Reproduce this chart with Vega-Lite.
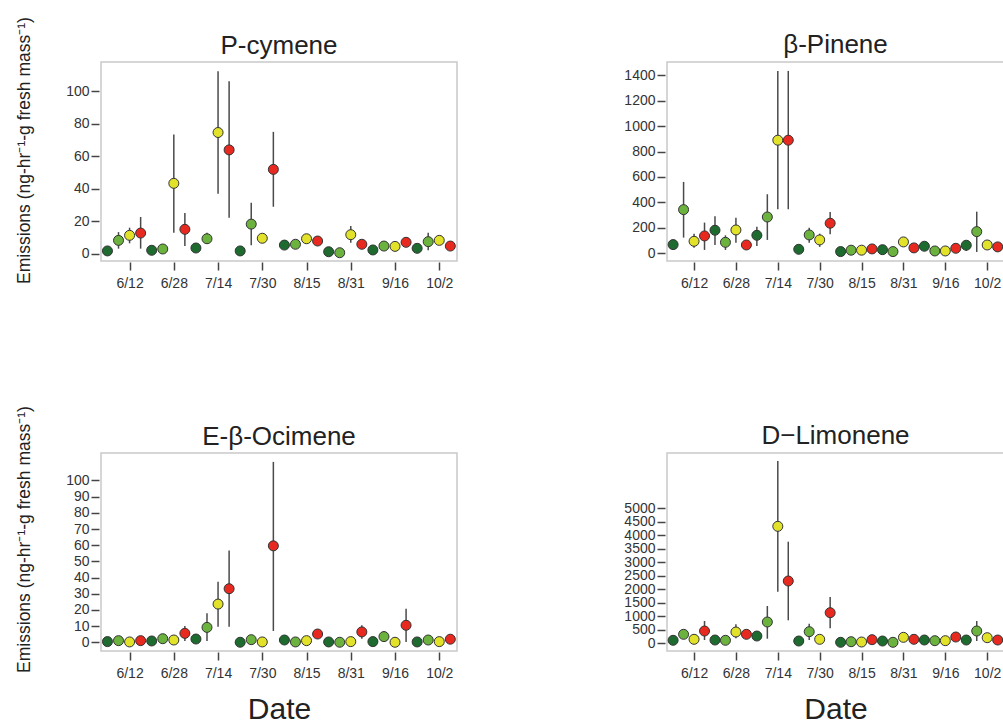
{
  "$schema": "https://vega.github.io/schema/vega-lite/v6.json",
  "padding": {"left": 14, "top": 15, "right": 0, "bottom": 0},
  "background": "white",
  "datasets": {
    "emissions": [
      {"compound":"P-cymene","date":"2013-06-04T00:00","group":"1","value":1.7,"lo":1,"hi":2.5},
      {"compound":"P-cymene","date":"2013-06-08T00:00","group":"2","value":8.2,"lo":3.1,"hi":13.3},
      {"compound":"P-cymene","date":"2013-06-12T00:00","group":"3","value":11.3,"lo":6.4,"hi":16},
      {"compound":"P-cymene","date":"2013-06-16T00:00","group":"4","value":12.7,"lo":3.1,"hi":22.6},
      {"compound":"P-cymene","date":"2013-06-20T00:00","group":"1","value":2.1,"lo":1.5,"hi":2.7},
      {"compound":"P-cymene","date":"2013-06-24T00:00","group":"2","value":2.9,"lo":2.3,"hi":3.5},
      {"compound":"P-cymene","date":"2013-06-28T00:00","group":"3","value":43.3,"lo":12.9,"hi":73.4},
      {"compound":"P-cymene","date":"2013-07-02T00:00","group":"4","value":15,"lo":4.7,"hi":25},
      {"compound":"P-cymene","date":"2013-07-06T00:00","group":"1","value":3.5,"lo":2.5,"hi":4.5},
      {"compound":"P-cymene","date":"2013-07-10T00:00","group":"2","value":9.2,"lo":6.1,"hi":12.9},
      {"compound":"P-cymene","date":"2013-07-14T00:00","group":"3","value":74.6,"lo":36.9,"hi":112.3},
      {"compound":"P-cymene","date":"2013-07-18T00:00","group":"4","value":63.9,"lo":22.1,"hi":106.1},
      {"compound":"P-cymene","date":"2013-07-22T00:00","group":"1","value":1.7,"lo":1.2,"hi":2.2},
      {"compound":"P-cymene","date":"2013-07-26T00:00","group":"2","value":18.2,"lo":5.2,"hi":31.3},
      {"compound":"P-cymene","date":"2013-07-30T00:00","group":"3","value":9.5,"lo":8.5,"hi":10.5},
      {"compound":"P-cymene","date":"2013-08-03T00:00","group":"4","value":51.9,"lo":28.9,"hi":75},
      {"compound":"P-cymene","date":"2013-08-07T00:00","group":"1","value":5.3,"lo":4.5,"hi":6},
      {"compound":"P-cymene","date":"2013-08-11T00:00","group":"2","value":5.8,"lo":5,"hi":6.6},
      {"compound":"P-cymene","date":"2013-08-15T00:00","group":"3","value":9.2,"lo":8.2,"hi":10.2},
      {"compound":"P-cymene","date":"2013-08-19T00:00","group":"4","value":7.8,"lo":6.8,"hi":8.8},
      {"compound":"P-cymene","date":"2013-08-23T00:00","group":"1","value":1.2,"lo":0.7,"hi":1.7},
      {"compound":"P-cymene","date":"2013-08-27T00:00","group":"2","value":0.6,"lo":0.2,"hi":1},
      {"compound":"P-cymene","date":"2013-08-31T00:00","group":"3","value":11.7,"lo":6.8,"hi":17},
      {"compound":"P-cymene","date":"2013-09-04T00:00","group":"4","value":5.8,"lo":5,"hi":6.6},
      {"compound":"P-cymene","date":"2013-09-08T00:00","group":"1","value":2.3,"lo":1.8,"hi":2.8},
      {"compound":"P-cymene","date":"2013-09-12T00:00","group":"2","value":4.7,"lo":4,"hi":5.4},
      {"compound":"P-cymene","date":"2013-09-16T00:00","group":"3","value":4.5,"lo":3.8,"hi":5.2},
      {"compound":"P-cymene","date":"2013-09-20T00:00","group":"4","value":7,"lo":4.7,"hi":9.8},
      {"compound":"P-cymene","date":"2013-09-24T00:00","group":"1","value":3.3,"lo":2.8,"hi":3.8},
      {"compound":"P-cymene","date":"2013-09-28T00:00","group":"2","value":7.4,"lo":2.1,"hi":12.9},
      {"compound":"P-cymene","date":"2013-10-02T00:00","group":"3","value":8.2,"lo":7.2,"hi":9.2},
      {"compound":"P-cymene","date":"2013-10-06T00:00","group":"4","value":4.7,"lo":4,"hi":5.4},

      {"compound":"β-Pinene","date":"2013-06-04T00:00","group":"1","value":68,"lo":55,"hi":80},
      {"compound":"β-Pinene","date":"2013-06-08T00:00","group":"2","value":343,"lo":123,"hi":561},
      {"compound":"β-Pinene","date":"2013-06-12T00:00","group":"3","value":94,"lo":44,"hi":154},
      {"compound":"β-Pinene","date":"2013-06-16T00:00","group":"4","value":136,"lo":26,"hi":241},
      {"compound":"β-Pinene","date":"2013-06-20T00:00","group":"1","value":181,"lo":65,"hi":291},
      {"compound":"β-Pinene","date":"2013-06-24T00:00","group":"2","value":86,"lo":26,"hi":141},
      {"compound":"β-Pinene","date":"2013-06-28T00:00","group":"3","value":183,"lo":83,"hi":280},
      {"compound":"β-Pinene","date":"2013-07-02T00:00","group":"4","value":65,"lo":50,"hi":80},
      {"compound":"β-Pinene","date":"2013-07-06T00:00","group":"1","value":141,"lo":57,"hi":209},
      {"compound":"β-Pinene","date":"2013-07-10T00:00","group":"2","value":285,"lo":105,"hi":464},
      {"compound":"β-Pinene","date":"2013-07-14T00:00","group":"3","value":889,"lo":346,"hi":1434},
      {"compound":"β-Pinene","date":"2013-07-18T00:00","group":"4","value":889,"lo":346,"hi":1434},
      {"compound":"β-Pinene","date":"2013-07-22T00:00","group":"1","value":31,"lo":20,"hi":42},
      {"compound":"β-Pinene","date":"2013-07-26T00:00","group":"2","value":144,"lo":83,"hi":201},
      {"compound":"β-Pinene","date":"2013-07-30T00:00","group":"3","value":105,"lo":50,"hi":154},
      {"compound":"β-Pinene","date":"2013-08-03T00:00","group":"4","value":236,"lo":149,"hi":325},
      {"compound":"β-Pinene","date":"2013-08-07T00:00","group":"1","value":13,"lo":5,"hi":20},
      {"compound":"β-Pinene","date":"2013-08-11T00:00","group":"2","value":24,"lo":15,"hi":33},
      {"compound":"β-Pinene","date":"2013-08-15T00:00","group":"3","value":24,"lo":15,"hi":33},
      {"compound":"β-Pinene","date":"2013-08-19T00:00","group":"4","value":34,"lo":25,"hi":43},
      {"compound":"β-Pinene","date":"2013-08-23T00:00","group":"1","value":28,"lo":20,"hi":36},
      {"compound":"β-Pinene","date":"2013-08-27T00:00","group":"2","value":13,"lo":5,"hi":20},
      {"compound":"β-Pinene","date":"2013-08-31T00:00","group":"3","value":89,"lo":75,"hi":103},
      {"compound":"β-Pinene","date":"2013-09-04T00:00","group":"4","value":42,"lo":32,"hi":52},
      {"compound":"β-Pinene","date":"2013-09-08T00:00","group":"1","value":55,"lo":45,"hi":65},
      {"compound":"β-Pinene","date":"2013-09-12T00:00","group":"2","value":18,"lo":10,"hi":26},
      {"compound":"β-Pinene","date":"2013-09-16T00:00","group":"3","value":18,"lo":10,"hi":26},
      {"compound":"β-Pinene","date":"2013-09-20T00:00","group":"4","value":39,"lo":30,"hi":48},
      {"compound":"β-Pinene","date":"2013-09-24T00:00","group":"1","value":63,"lo":18,"hi":97},
      {"compound":"β-Pinene","date":"2013-09-28T00:00","group":"2","value":170,"lo":10,"hi":327},
      {"compound":"β-Pinene","date":"2013-10-02T00:00","group":"3","value":65,"lo":55,"hi":75},
      {"compound":"β-Pinene","date":"2013-10-06T00:00","group":"4","value":50,"lo":40,"hi":60},

      {"compound":"E-β-Ocimene","date":"2013-06-04T00:00","group":"1","value":0.4,"lo":0,"hi":0.8},
      {"compound":"E-β-Ocimene","date":"2013-06-08T00:00","group":"2","value":1,"lo":0.5,"hi":1.5},
      {"compound":"E-β-Ocimene","date":"2013-06-12T00:00","group":"3","value":0.2,"lo":0,"hi":0.5},
      {"compound":"E-β-Ocimene","date":"2013-06-16T00:00","group":"4","value":1,"lo":0.5,"hi":1.5},
      {"compound":"E-β-Ocimene","date":"2013-06-20T00:00","group":"1","value":0.8,"lo":0.3,"hi":1.3},
      {"compound":"E-β-Ocimene","date":"2013-06-24T00:00","group":"2","value":2.2,"lo":1.5,"hi":2.9},
      {"compound":"E-β-Ocimene","date":"2013-06-28T00:00","group":"3","value":1.4,"lo":0.8,"hi":2},
      {"compound":"E-β-Ocimene","date":"2013-07-02T00:00","group":"4","value":5.5,"lo":0.8,"hi":10},
      {"compound":"E-β-Ocimene","date":"2013-07-06T00:00","group":"1","value":2,"lo":1.4,"hi":2.6},
      {"compound":"E-β-Ocimene","date":"2013-07-10T00:00","group":"2","value":9.2,"lo":0.8,"hi":17.9},
      {"compound":"E-β-Ocimene","date":"2013-07-14T00:00","group":"3","value":23.6,"lo":9.6,"hi":37.4},
      {"compound":"E-β-Ocimene","date":"2013-07-18T00:00","group":"4","value":33.1,"lo":9.6,"hi":56.8},
      {"compound":"E-β-Ocimene","date":"2013-07-22T00:00","group":"1","value":0,"lo":0,"hi":0.4},
      {"compound":"E-β-Ocimene","date":"2013-07-26T00:00","group":"2","value":1.6,"lo":1,"hi":2.2},
      {"compound":"E-β-Ocimene","date":"2013-07-30T00:00","group":"3","value":0.2,"lo":0,"hi":0.5},
      {"compound":"E-β-Ocimene","date":"2013-08-03T00:00","group":"4","value":59.6,"lo":7,"hi":111.5},
      {"compound":"E-β-Ocimene","date":"2013-08-07T00:00","group":"1","value":1.4,"lo":0.8,"hi":2},
      {"compound":"E-β-Ocimene","date":"2013-08-11T00:00","group":"2","value":0.2,"lo":0,"hi":0.5},
      {"compound":"E-β-Ocimene","date":"2013-08-15T00:00","group":"3","value":1,"lo":0.5,"hi":1.5},
      {"compound":"E-β-Ocimene","date":"2013-08-19T00:00","group":"4","value":5.1,"lo":4.3,"hi":5.9},
      {"compound":"E-β-Ocimene","date":"2013-08-23T00:00","group":"1","value":0.2,"lo":0,"hi":0.5},
      {"compound":"E-β-Ocimene","date":"2013-08-27T00:00","group":"2","value":0,"lo":0,"hi":0.4},
      {"compound":"E-β-Ocimene","date":"2013-08-31T00:00","group":"3","value":0.4,"lo":0,"hi":0.8},
      {"compound":"E-β-Ocimene","date":"2013-09-04T00:00","group":"4","value":6.4,"lo":2.2,"hi":10.5},
      {"compound":"E-β-Ocimene","date":"2013-09-08T00:00","group":"1","value":0.4,"lo":0,"hi":0.8},
      {"compound":"E-β-Ocimene","date":"2013-09-12T00:00","group":"2","value":3.5,"lo":0.8,"hi":7},
      {"compound":"E-β-Ocimene","date":"2013-09-16T00:00","group":"3","value":0,"lo":0,"hi":0.4},
      {"compound":"E-β-Ocimene","date":"2013-09-20T00:00","group":"4","value":10.5,"lo":0.2,"hi":20.7},
      {"compound":"E-β-Ocimene","date":"2013-09-24T00:00","group":"1","value":0.2,"lo":0,"hi":0.5},
      {"compound":"E-β-Ocimene","date":"2013-09-28T00:00","group":"2","value":1.4,"lo":0.8,"hi":2},
      {"compound":"E-β-Ocimene","date":"2013-10-02T00:00","group":"3","value":0.4,"lo":0,"hi":0.8},
      {"compound":"E-β-Ocimene","date":"2013-10-06T00:00","group":"4","value":1.9,"lo":1.3,"hi":2.5},

      {"compound":"D−Limonene","date":"2013-06-04T00:00","group":"1","value":100,"lo":50,"hi":150},
      {"compound":"D−Limonene","date":"2013-06-08T00:00","group":"2","value":322,"lo":200,"hi":450},
      {"compound":"D−Limonene","date":"2013-06-12T00:00","group":"3","value":137,"lo":80,"hi":190},
      {"compound":"D−Limonene","date":"2013-06-16T00:00","group":"4","value":444,"lo":111,"hi":815},
      {"compound":"D−Limonene","date":"2013-06-20T00:00","group":"1","value":111,"lo":60,"hi":160},
      {"compound":"D−Limonene","date":"2013-06-24T00:00","group":"2","value":100,"lo":50,"hi":150},
      {"compound":"D−Limonene","date":"2013-06-28T00:00","group":"3","value":407,"lo":174,"hi":693},
      {"compound":"D−Limonene","date":"2013-07-02T00:00","group":"4","value":322,"lo":250,"hi":400},
      {"compound":"D−Limonene","date":"2013-07-06T00:00","group":"1","value":259,"lo":200,"hi":320},
      {"compound":"D−Limonene","date":"2013-07-10T00:00","group":"2","value":778,"lo":159,"hi":1370},
      {"compound":"D−Limonene","date":"2013-07-14T00:00","group":"3","value":4321,"lo":1900,"hi":6741},
      {"compound":"D−Limonene","date":"2013-07-18T00:00","group":"4","value":2296,"lo":841,"hi":3752},
      {"compound":"D−Limonene","date":"2013-07-22T00:00","group":"1","value":74,"lo":30,"hi":120},
      {"compound":"D−Limonene","date":"2013-07-26T00:00","group":"2","value":420,"lo":111,"hi":716},
      {"compound":"D−Limonene","date":"2013-07-30T00:00","group":"3","value":137,"lo":80,"hi":190},
      {"compound":"D−Limonene","date":"2013-08-03T00:00","group":"4","value":1123,"lo":544,"hi":1704},
      {"compound":"D−Limonene","date":"2013-08-07T00:00","group":"1","value":26,"lo":0,"hi":60},
      {"compound":"D−Limonene","date":"2013-08-11T00:00","group":"2","value":48,"lo":10,"hi":90},
      {"compound":"D−Limonene","date":"2013-08-15T00:00","group":"3","value":37,"lo":5,"hi":80},
      {"compound":"D−Limonene","date":"2013-08-19T00:00","group":"4","value":123,"lo":70,"hi":180},
      {"compound":"D−Limonene","date":"2013-08-23T00:00","group":"1","value":74,"lo":30,"hi":120},
      {"compound":"D−Limonene","date":"2013-08-27T00:00","group":"2","value":26,"lo":0,"hi":60},
      {"compound":"D−Limonene","date":"2013-08-31T00:00","group":"3","value":210,"lo":150,"hi":270},
      {"compound":"D−Limonene","date":"2013-09-04T00:00","group":"4","value":137,"lo":80,"hi":190},
      {"compound":"D−Limonene","date":"2013-09-08T00:00","group":"1","value":111,"lo":60,"hi":160},
      {"compound":"D−Limonene","date":"2013-09-12T00:00","group":"2","value":86,"lo":40,"hi":130},
      {"compound":"D−Limonene","date":"2013-09-16T00:00","group":"3","value":86,"lo":40,"hi":130},
      {"compound":"D−Limonene","date":"2013-09-20T00:00","group":"4","value":222,"lo":160,"hi":280},
      {"compound":"D−Limonene","date":"2013-09-24T00:00","group":"1","value":111,"lo":60,"hi":160},
      {"compound":"D−Limonene","date":"2013-09-28T00:00","group":"2","value":444,"lo":74,"hi":815},
      {"compound":"D−Limonene","date":"2013-10-02T00:00","group":"3","value":197,"lo":140,"hi":250},
      {"compound":"D−Limonene","date":"2013-10-06T00:00","group":"4","value":111,"lo":60,"hi":160}
    ]
  },
  "data": {"name": "emissions"},
  "columns": 2,
  "spacing": {"row": 192, "column": 210},
  "bounds": "flush",
  "concat": [
    {
      "title": {"text": "P-cymene", "frame": "group", "offset": -42},
      "width": 356, "height": 199,
      "transform": [{"filter": "datum.compound === 'P-cymene'"}],
      "encoding": {
        "x": {"field": "date", "type": "temporal",
          "scale": {"domain": [{"year": 2013, "month": 6, "date": 1, "hours": 16}, {"year": 2013, "month": 10, "date": 8, "hours": 10}]},
          "axis": {"title": null, "format": "%-m/%-d", "values": [
            {"year": 2013, "month": 6, "date": 12}, {"year": 2013, "month": 6, "date": 28}, {"year": 2013, "month": 7, "date": 14}, {"year": 2013, "month": 7, "date": 30},
            {"year": 2013, "month": 8, "date": 15}, {"year": 2013, "month": 8, "date": 31}, {"year": 2013, "month": 9, "date": 16}, {"year": 2013, "month": 10, "date": 2}]}}
      },
      "layer": [
        {"mark": {"type": "rule", "color": "#4a4a4a", "strokeWidth": 1.5},
          "encoding": {
            "y": {"field": "lo", "type": "quantitative", "scale": {"domain": [-4.5, 118], "nice": false, "zero": false},
              "axis": {"title": "Emissions (ng-hr⁻¹-g fresh mass⁻¹)", "format": "d", "values": [0, 20, 40, 60, 80, 100], "minExtent": 50, "maxExtent": 50, "titleY": 88}},
            "y2": {"field": "hi"}}},
        {"mark": {"type": "circle", "size": 100, "stroke": "#333333", "strokeWidth": 1, "opacity": 1},
          "encoding": {
            "y": {"field": "value", "type": "quantitative",
              "axis": {"title": "Emissions (ng-hr⁻¹-g fresh mass⁻¹)", "format": "d", "values": [0, 20, 40, 60, 80, 100], "minExtent": 50, "maxExtent": 50, "titleY": 88}},
            "fill": {"field": "group", "type": "nominal", "legend": null,
              "scale": {"domain": ["1", "2", "3", "4"], "range": ["#1e6b2f", "#6cb23f", "#e2e22a", "#e7291f"]}}}}
      ]
    },
    {
      "title": {"text": "β-Pinene", "frame": "group"},
      "width": 337, "height": 199,
      "transform": [{"filter": "datum.compound === 'β-Pinene'"}],
      "encoding": {
        "x": {"field": "date", "type": "temporal",
          "scale": {"domain": [{"year": 2013, "month": 6, "date": 1, "hours": 16}, {"year": 2013, "month": 10, "date": 8, "hours": 10}]},
          "axis": {"title": null, "format": "%-m/%-d", "values": [
            {"year": 2013, "month": 6, "date": 12}, {"year": 2013, "month": 6, "date": 28}, {"year": 2013, "month": 7, "date": 14}, {"year": 2013, "month": 7, "date": 30},
            {"year": 2013, "month": 8, "date": 15}, {"year": 2013, "month": 8, "date": 31}, {"year": 2013, "month": 9, "date": 16}, {"year": 2013, "month": 10, "date": 2}]}}
      },
      "layer": [
        {"mark": {"type": "rule", "color": "#4a4a4a", "strokeWidth": 1.5},
          "encoding": {
            "y": {"field": "lo", "type": "quantitative", "scale": {"domain": [-61, 1504], "nice": false, "zero": false},
              "axis": {"title": null, "format": "d", "values": [0, 200, 400, 600, 800, 1000, 1200, 1400], "minExtent": 45, "maxExtent": 45}},
            "y2": {"field": "hi"}}},
        {"mark": {"type": "circle", "size": 100, "stroke": "#333333", "strokeWidth": 1, "opacity": 1},
          "encoding": {
            "y": {"field": "value", "type": "quantitative",
              "axis": {"title": null, "format": "d", "values": [0, 200, 400, 600, 800, 1000, 1200, 1400], "minExtent": 45, "maxExtent": 45}},
            "fill": {"field": "group", "type": "nominal", "legend": null,
              "scale": {"domain": ["1", "2", "3", "4"], "range": ["#1e6b2f", "#6cb23f", "#e2e22a", "#e7291f"]}}}}
      ]
    },
    {
      "title": {"text": "E-β-Ocimene", "frame": "group", "offset": -44},
      "width": 356, "height": 198,
      "transform": [{"filter": "datum.compound === 'E-β-Ocimene'"}],
      "encoding": {
        "x": {"field": "date", "type": "temporal",
          "scale": {"domain": [{"year": 2013, "month": 6, "date": 1, "hours": 16}, {"year": 2013, "month": 10, "date": 8, "hours": 10}]},
          "axis": {"title": "Date", "format": "%-m/%-d", "values": [
            {"year": 2013, "month": 6, "date": 12}, {"year": 2013, "month": 6, "date": 28}, {"year": 2013, "month": 7, "date": 14}, {"year": 2013, "month": 7, "date": 30},
            {"year": 2013, "month": 8, "date": 15}, {"year": 2013, "month": 8, "date": 31}, {"year": 2013, "month": 9, "date": 16}, {"year": 2013, "month": 10, "date": 2}]}}
      },
      "layer": [
        {"mark": {"type": "rule", "color": "#4a4a4a", "strokeWidth": 1.5},
          "encoding": {
            "y": {"field": "lo", "type": "quantitative", "scale": {"domain": [-5.4, 117], "nice": false, "zero": false},
              "axis": {"title": "Emissions (ng-hr⁻¹-g fresh mass⁻¹)", "format": "d", "values": [0, 10, 20, 30, 40, 50, 60, 70, 80, 90, 100], "minExtent": 50, "maxExtent": 50, "titleY": 86}},
            "y2": {"field": "hi"}}},
        {"mark": {"type": "circle", "size": 100, "stroke": "#333333", "strokeWidth": 1, "opacity": 1},
          "encoding": {
            "y": {"field": "value", "type": "quantitative",
              "axis": {"title": "Emissions (ng-hr⁻¹-g fresh mass⁻¹)", "format": "d", "values": [0, 10, 20, 30, 40, 50, 60, 70, 80, 90, 100], "minExtent": 50, "maxExtent": 50, "titleY": 86}},
            "fill": {"field": "group", "type": "nominal", "legend": null,
              "scale": {"domain": ["1", "2", "3", "4"], "range": ["#1e6b2f", "#6cb23f", "#e2e22a", "#e7291f"]}}}}
      ]
    },
    {
      "title": {"text": "D−Limonene", "frame": "group"},
      "width": 337, "height": 198,
      "transform": [{"filter": "datum.compound === 'D−Limonene'"}],
      "encoding": {
        "x": {"field": "date", "type": "temporal",
          "scale": {"domain": [{"year": 2013, "month": 6, "date": 1, "hours": 16}, {"year": 2013, "month": 10, "date": 8, "hours": 10}]},
          "axis": {"title": "Date", "format": "%-m/%-d", "values": [
            {"year": 2013, "month": 6, "date": 12}, {"year": 2013, "month": 6, "date": 28}, {"year": 2013, "month": 7, "date": 14}, {"year": 2013, "month": 7, "date": 30},
            {"year": 2013, "month": 8, "date": 15}, {"year": 2013, "month": 8, "date": 31}, {"year": 2013, "month": 9, "date": 16}, {"year": 2013, "month": 10, "date": 2}]}}
      },
      "layer": [
        {"mark": {"type": "rule", "color": "#4a4a4a", "strokeWidth": 1.5},
          "encoding": {
            "y": {"field": "lo", "type": "quantitative", "scale": {"domain": [-296, 7037], "nice": false, "zero": false},
              "axis": {"title": null, "format": "d", "values": [0, 500, 1000, 1500, 2000, 2500, 3000, 3500, 4000, 4500, 5000], "minExtent": 45, "maxExtent": 45}},
            "y2": {"field": "hi"}}},
        {"mark": {"type": "circle", "size": 100, "stroke": "#333333", "strokeWidth": 1, "opacity": 1},
          "encoding": {
            "y": {"field": "value", "type": "quantitative",
              "axis": {"title": null, "format": "d", "values": [0, 500, 1000, 1500, 2000, 2500, 3000, 3500, 4000, 4500, 5000], "minExtent": 45, "maxExtent": 45}},
            "fill": {"field": "group", "type": "nominal", "legend": null,
              "scale": {"domain": ["1", "2", "3", "4"], "range": ["#1e6b2f", "#6cb23f", "#e2e22a", "#e7291f"]}}}}
      ]
    }
  ],
  "config": {
    "font": "Liberation Sans",
    "view": {"stroke": "#c9c9c9", "strokeWidth": 1.5},
    "title": {"fontSize": 26, "fontWeight": "normal", "color": "#222222", "offset": 4, "font": "Liberation Sans"},
    "axis": {"domain": false, "grid": false, "tickColor": "#444444", "tickWidth": 1.5, "tickSize": 8,
      "labelFontSize": 14, "labelColor": "#333333", "labelFont": "Liberation Sans",
      "titleFont": "Liberation Sans", "titleFontWeight": "normal", "titleColor": "#222222"},
    "axisX": {"offset": 1, "labelPadding": 6, "titleFontSize": 30, "titlePadding": 14, "labelOverlap": false},
    "axisY": {"offset": 2, "labelPadding": 2, "titleFontSize": 17.5, "titlePadding": 16, "labelOverlap": false}
  }
}
